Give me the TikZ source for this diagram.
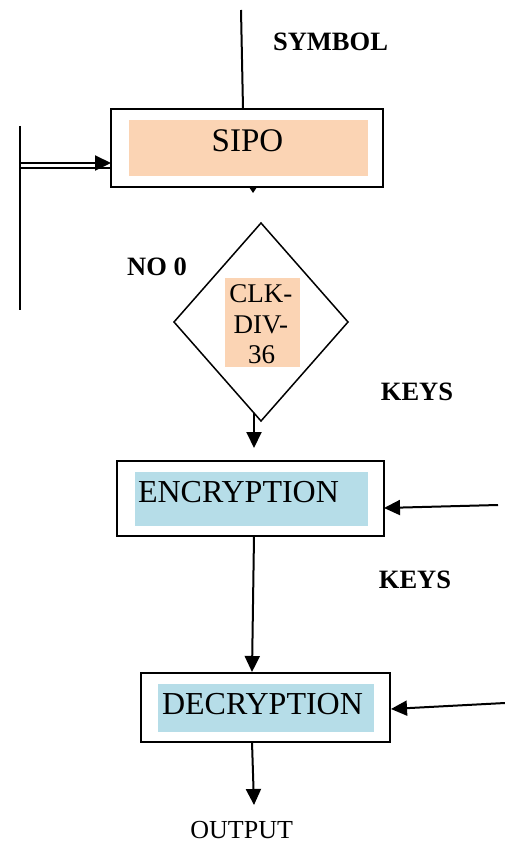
\documentclass[tikz,border=0pt]{standalone}
\usepackage{fontspec}
\setmainfont{Liberation Serif}
\usetikzlibrary{arrows.meta,shapes.geometric}
\definecolor{peach}{HTML}{FBD4B4}
\definecolor{aqua}{HTML}{B6DDE8}
\begin{document}
\begin{tikzpicture}[x=1pt,y=-1pt,
  frame/.style={draw, line width=2pt, inner sep=0pt, outer sep=0pt},
  plain/.style={line width=2pt},
  arr/.style={line width=2pt, -{Triangle[length=16pt,width=15pt]}},
  big/.style={anchor=base, inner sep=0pt, font=\fontsize{32}{36}\selectfont},
  mid/.style={anchor=base, inner sep=0pt, font=\fontsize{27}{30}\selectfont},
  lab/.style={anchor=base, inner sep=0pt, font=\fontsize{26.5}{30}\selectfont\bfseries},
  small/.style={anchor=base, inner sep=0pt, font=\fontsize{26}{30}\selectfont}]
\useasboundingbox (0,0) rectangle (505,842);

% SIPO
\node[frame, minimum width=272pt, minimum height=78pt] (sipo) at (247,148) {};
\fill[peach] (129,120) rectangle (368,176);
\node[big, font=\fontsize{33}{36}\selectfont] (sipot) at (247.5,152) {SIPO};

% diamond
\node[draw, diamond, line width=1.5pt, inner sep=0pt, outer sep=0pt,
      minimum width=174pt, minimum height=198pt] (clk) at (261,322) {};
\fill[peach] (225,278) rectangle (300,367);
\node[mid] (c1) at (260.8,302) {CLK-};
\node[mid] (c2) at (260.8,333) {DIV-};
\node[mid] (c3) at (261.7,363) {36};

% ENCRYPTION
\node[frame, minimum width=267pt, minimum height=75pt] (enc) at (250.5,498.5) {};
\fill[aqua] (135,472) rectangle (368,526);
\node[big] (enct) at (238.5,502) {ENCRYPTION};

% DECRYPTION
\node[frame, minimum width=249pt, minimum height=69pt] (dec) at (265.5,707.5) {};
\fill[aqua] (158,684) rectangle (374,732);
\node[big] (dect) at (262.5,714) {DECRYPTION};

% labels
\node[lab] (symbol) at (330.5,51) {SYMBOL};
\node[lab] (no0) at (157,275) {NO 0};
\node[lab] (keys1) at (417,400) {KEYS};
\node[lab] (keys2) at (415,588) {KEYS};
\node[small] (output) at (241.7,838) {OUTPUT};

% connectors
\coordinate (symtop) at (241,10);
\draw[plain] (symtop) -- ([xshift=-4pt]sipo.north);

\coordinate (lt) at (20,126);
\coordinate (lb) at (20,310);
\draw[plain] (lt) -- (lb);
\coordinate (d1) at (20,163);
\coordinate (d2) at (20,168);
\draw[arr] (d1) -- (d1 -| sipo.west);
\draw[plain] (d2) -- (d2 -| sipo.west);

\fill ([xshift=2pt]sipo.south) -- ++(8,0) -- ++(-4,6) -- cycle;

\draw[arr] ([shift={(-7,-8)}]clk.south) -- ([shift={(3.5,-13)}]enc.north);
\draw[arr] ([shift={(3.5,0)}]enc.south) -- ([shift={(-13.5,-1)}]dec.north);

\coordinate (k1) at (498,505);
\draw[arr] (k1) -- ([shift={(0,9.5)}]enc.east);
\coordinate (k2) at (505,703);
\draw[arr] (k2) -- ([shift={(1,1.5)}]dec.east);

\coordinate (outp) at (254,805);
\draw[arr] ([shift={(-13.5,0)}]dec.south) -- (outp);
\end{tikzpicture}
\end{document}
